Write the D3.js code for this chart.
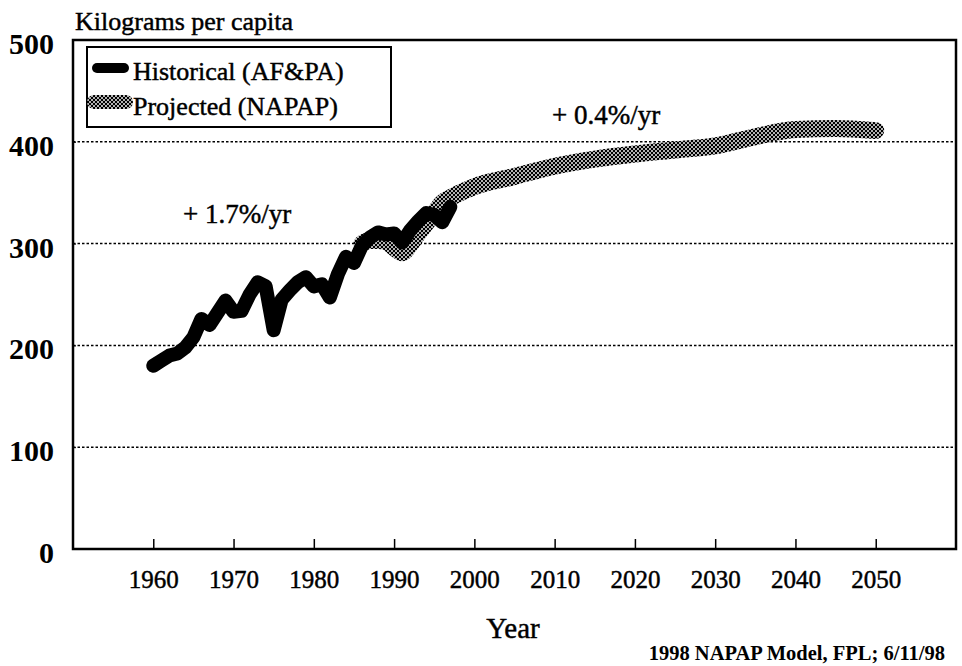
<!DOCTYPE html>
<html>
<head>
<meta charset="utf-8">
<script src="https://cdn.jsdelivr.net/npm/d3@7"></script>
<style>
  body { margin: 0; background: #fff; }
  svg { display: block; font-family: "Liberation Serif", "Times New Roman", serif; }
  .ink { fill: #000; stroke: #000; stroke-width: 0.45px; }
</style>
</head>
<body>
<svg class="napap" width="962" height="666"></svg>
<script>
// historical consumption (AF&PA), kg per capita
var histYears = [1960, 1961, 1962, 1963, 1964, 1965, 1966, 1967, 1968, 1969,
                 1970, 1971, 1972, 1973, 1974, 1975, 1976, 1977, 1978, 1979,
                 1980, 1981, 1982, 1983, 1984, 1985, 1986, 1987, 1988, 1989,
                 1990, 1991, 1992, 1993, 1994, 1995, 1996, 1997];
var histValues = [180, 185, 190, 192, 198, 208, 226, 220, 232, 244,
                  233, 234, 250, 262, 258, 215, 245, 254, 262, 267,
                  258, 260, 247, 270, 287, 281, 298, 306, 311, 309,
                  310, 301, 313, 322, 330, 328, 321, 336];

// projected (NAPAP model)
var projYears = [1986, 1987, 1988, 1989, 1990, 1991, 1992, 1993, 1994, 1995,
                 1996, 1997, 1998, 2000, 2005, 2010, 2015, 2020, 2025, 2030,
                 2035, 2040, 2045, 2050];
var projValues = [300, 303, 303, 302, 296, 291, 299, 310, 320, 330,
                  340, 345, 349, 356, 366, 376, 383, 388, 392, 396,
                  405, 412, 413, 411];

var xTicks = [1960, 1970, 1980, 1990, 2000, 2010, 2020, 2030, 2040, 2050];
var yTicks = [0, 100, 200, 300, 400, 500];
var gridValues = [100, 200, 300, 400];

var svg = d3.select("svg.napap"),
    margin = {top: 40, right: 6, bottom: 117, left: 73},
    width = +svg.attr("width") - margin.left - margin.right,
    height = +svg.attr("height") - margin.top - margin.bottom,
    g = svg.append("g").attr("transform", "translate(" + margin.left + "," + margin.top + ")");

var x = d3.scaleLinear().domain([1950, 2060]).range([0, width]),
    y = d3.scaleLinear().domain([0, 500]).range([height, 0]);

// dotted texture for the projected band (black lattice, white holes)
var pat = svg.append("defs").append("pattern")
    .attr("id", "hatch")
    .attr("patternUnits", "userSpaceOnUse")
    .attr("width", 4)
    .attr("height", 4);
pat.append("rect").attr("width", 4).attr("height", 4).attr("fill", "#000");
pat.append("circle").attr("cx", 1).attr("cy", 1).attr("r", 0.95).attr("fill", "#fff");
pat.append("circle").attr("cx", 3).attr("cy", 3).attr("r", 0.95).attr("fill", "#fff");

// grid
g.selectAll(".grid")
    .data(gridValues)
    .enter().append("line")
    .attr("class", "grid")
    .attr("x1", 0)
    .attr("x2", width)
    .attr("y1", function(d) { return y(d); })
    .attr("y2", function(d) { return y(d); })
    .style("stroke", "#000")
    .style("stroke-width", 1.5)
    .style("stroke-dasharray", "2.5,2");

// axes
var xAxis = g.append("g")
    .attr("transform", "translate(0," + height + ")")
    .call(d3.axisBottom(x).tickValues(xTicks).tickFormat(d3.format("d")).tickSize(-10).tickPadding(21));
xAxis.select(".domain").remove();
xAxis.selectAll("line").style("stroke-width", 1.5);
xAxis.selectAll("text")
    .attr("class", "ink")
    .style("font-size", "25px")
    .style("font-family", "Liberation Serif");

var yAxis = g.append("g")
    .call(d3.axisLeft(y).tickValues(yTicks).tickSize(-3).tickPadding(19));
yAxis.select(".domain").remove();
yAxis.selectAll("text")
    .attr("dy", "0.45em")
    .style("font-size", "30px")
    .style("font-weight", "bold")
    .style("font-family", "Liberation Serif")
    .style("fill", "#000");

// frame
g.append("rect")
    .attr("width", width)
    .attr("height", height)
    .style("fill", "none")
    .style("stroke", "#000")
    .style("stroke-width", 2.5);

var line = d3.line()
    .x(function(d) { return x(d[0]); })
    .y(function(d) { return y(d[1]); });

var projected = d3.zip(projYears, projValues),
    historical = d3.zip(histYears, histValues);

g.append("path")
    .datum(projected)
    .attr("d", line.curve(d3.curveMonotoneX))
    .style("fill", "none")
    .style("stroke", "url(#hatch)")
    .style("stroke-width", 17)
    .style("stroke-linecap", "round")
    .style("stroke-linejoin", "round");

g.append("path")
    .datum(historical)
    .attr("d", line.curve(d3.curveLinear))
    .style("fill", "none")
    .style("stroke", "#000")
    .style("stroke-width", 14)
    .style("stroke-linecap", "round")
    .style("stroke-linejoin", "round");

// legend
var legend = svg.append("g").attr("transform", "translate(87,47)");
legend.append("rect")
    .attr("width", 304)
    .attr("height", 80)
    .style("fill", "#fff")
    .style("stroke", "#000")
    .style("stroke-width", 2);
legend.append("line")
    .attr("x1", 10).attr("x2", 37).attr("y1", 21).attr("y2", 21)
    .style("stroke", "#000").style("stroke-width", 10).style("stroke-linecap", "round");
legend.append("line")
    .attr("x1", 7).attr("x2", 39).attr("y1", 55).attr("y2", 55)
    .style("stroke", "url(#hatch)").style("stroke-width", 14).style("stroke-linecap", "round");
legend.append("text").attr("class", "ink").attr("x", 46).attr("y", 33).style("font-size", "26px").text("Historical (AF&PA)");
legend.append("text").attr("class", "ink").attr("x", 46).attr("y", 68).style("font-size", "26px").text("Projected (NAPAP)");

// titles and notes
svg.append("text").attr("class", "ink").attr("x", 75).attr("y", 30).style("font-size", "26px").text("Kilograms per capita");
svg.append("text").attr("class", "ink").attr("x", 513).attr("y", 638).attr("text-anchor", "middle").style("font-size", "29px").text("Year");
svg.append("text").attr("x", 945).attr("y", 660).attr("text-anchor", "end")
    .style("font-size", "20.5px").style("font-weight", "bold").text("1998 NAPAP Model, FPL; 6/11/98");
svg.append("text").attr("class", "ink").attr("x", 183).attr("y", 223).style("font-size", "27px").text("+ 1.7%/yr");
svg.append("text").attr("class", "ink").attr("x", 552).attr("y", 124).style("font-size", "27px").text("+ 0.4%/yr");
</script>
</body>
</html>
